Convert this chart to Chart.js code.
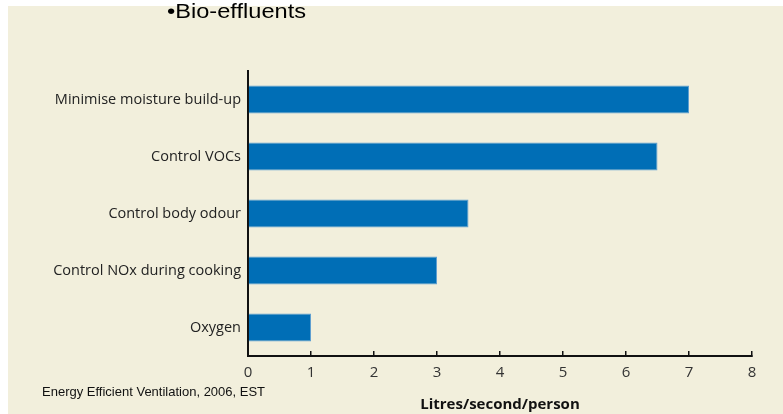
<!DOCTYPE html>
<html>
<head>
<meta charset="utf-8">
<script src="https://cdn.jsdelivr.net/npm/chart.js@4.4.1/dist/chart.umd.min.js"></script>
<style>
  html, body { margin: 0; padding: 0; background: #fff; }
  #wrap { position: relative; width: 783px; height: 414px; overflow: hidden; }
  #panel { position: absolute; left: 8px; top: 6px; right: 0; bottom: 0; background: #f2efdc; }
  #chart { position: absolute; left: 0; top: 0; }
  .note { position: absolute; font-family: "Liberation Sans", Arial, sans-serif; color: #000; white-space: nowrap; }
  #bullet { left: 167px; top: 0px; font-size: 20px; transform: scaleX(1.18); transform-origin: left top; }
  #source { left: 42px; top: 384px; font-size: 13px; color: #111; }
</style>
</head>
<body>
<div id="wrap">
  <div id="panel"></div>
  <canvas id="chart" width="783" height="414"></canvas>
  <div class="note" id="bullet">•Bio-effluents</div>
  <div class="note" id="source">Energy Efficient Ventilation, 2006, EST</div>
</div>
<script>
const categories = [
    'Minimise moisture build-up',
    'Control VOCs',
    'Control body odour',
    'Control NOx during cooking',
    'Oxygen'
];
const litresPerSecond = [7, 6.5, 3.5, 3, 1];
const xTicks = [0, 1, 2, 3, 4, 5, 6, 7, 8];

const labelFont = { family: '"Open Sans", "Noto Sans", sans-serif', size: 14.5 };

new Chart(document.getElementById('chart'), {
    type: 'bar',
    data: {
        labels: categories,
        datasets: [{
            label: 'Litres/second/person',
            data: litresPerSecond,
            backgroundColor: '#006eb6',
            borderColor: '#5f9fd0',
            borderWidth: 1,
            borderSkipped: 'left',
            categoryPercentage: 1,
            barPercentage: 0.49
        }]
    },
    options: {
        indexAxis: 'y',
        responsive: false,
        animation: false,
        layout: { padding: { left: 0, right: 31, top: 71, bottom: 0 } },
        plugins: {
            legend: { display: false },
            tooltip: { enabled: false }
        },
        scales: {
            x: {
                min: 0,
                max: 8,
                afterBuildTicks: scale => { scale.ticks = xTicks.map(v => ({ value: v })); },
                afterFit: scale => { scale.height = 58; },
                grid: {
                    drawOnChartArea: false,
                    drawTicks: true,
                    tickLength: -5,
                    color: '#111',
                    lineWidth: 1.5
                },
                border: { display: true, color: '#111', width: 2 },
                ticks: {
                    color: '#333',
                    font: { family: labelFont.family, size: 15 },
                    padding: 13,
                    maxRotation: 0
                },
                title: {
                    display: true,
                    text: 'Litres/second/person',
                    color: '#111',
                    font: { family: labelFont.family, size: 15, weight: 'bold' },
                    padding: { top: 0, bottom: 0 }
                }
            },
            y: {
                afterFit: scale => { scale.width = 248; },
                grid: { display: false, drawTicks: false },
                border: { display: true, color: '#111', width: 2 },
                ticks: {
                    color: '#222',
                    font: labelFont,
                    padding: 7
                }
            }
        }
    }
});
</script>
</body>
</html>
